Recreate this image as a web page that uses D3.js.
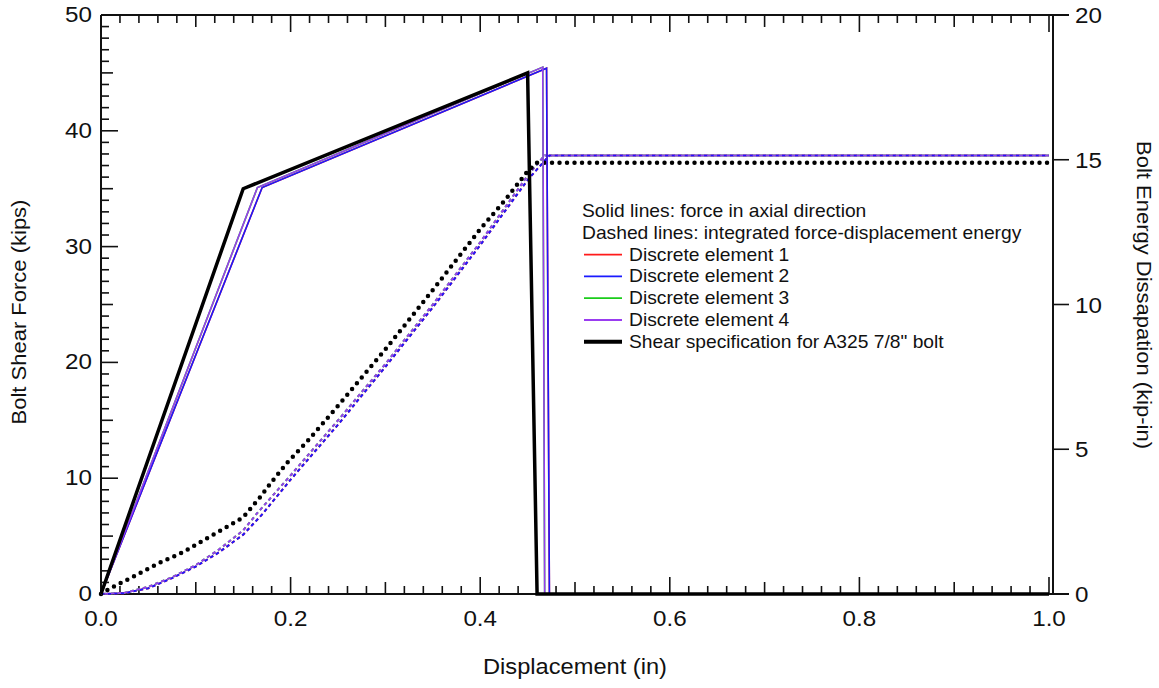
<!DOCTYPE html>
<html>
<head>
<meta charset="utf-8">
<script src="https://cdn.jsdelivr.net/npm/d3@7"></script>
<style>
  body { margin: 0; background: #fff; }
  svg text { font-family: "Liberation Sans", Arial, sans-serif; fill: #111; }
</style>
</head>
<body>
<svg id="chart" width="1159" height="688"></svg>
<script>
// ---------- data ----------
const xTicks = [0.0, 0.2, 0.4, 0.6, 0.8, 1.0];
const leftTicks = [0, 10, 20, 30, 40, 50];
const rightTicks = [0, 5, 10, 15, 20];

// Solid force curves (kips) vs displacement (in)
const elem1Disp  = [0, 0.170, 0.470, 0.473, 1.0];
const elem1Force = [0, 35.1, 45.4, 0, 0];
const elem2Disp  = [0, 0.170, 0.470, 0.473, 1.0];
const elem2Force = [0, 35.1, 45.4, 0, 0];
const elem3Disp  = [0, 0.165, 0.466, 0.468, 1.0];
const elem3Force = [0, 35.1, 45.5, 0, 0];
const elem4Disp  = [0, 0.165, 0.466, 0.468, 1.0];
const elem4Force = [0, 35.1, 45.5, 0, 0];
const specDisp   = [0, 0.150, 0.450, 0.460, 1.0];
const specForce  = [0, 35.0, 45.0, 0, 0];

// Dashed energy curves (kip-in)
const elem2EDisp = [0, 0.025, 0.05, 0.075, 0.1, 0.125, 0.15, 0.17, 0.2, 0.25, 0.3, 0.35, 0.4, 0.45, 0.473, 1.0];
const elem2E     = [0, 0.03, 0.20, 0.55, 0.95, 1.45, 2.05, 2.75, 3.95, 5.85, 7.85, 9.9, 12.05, 14.3, 15.15, 15.15];
const elem4EDisp = [0, 0.025, 0.05, 0.075, 0.1, 0.125, 0.15, 0.165, 0.2, 0.25, 0.3, 0.35, 0.4, 0.45, 0.468, 1.0];
const elem4E     = [0, 0.04, 0.25, 0.58, 1.0, 1.55, 2.2, 2.8, 4.1, 6.0, 7.95, 10.0, 12.15, 14.45, 15.15, 15.15];
const specEDisp  = [0, 0.01, 0.034, 0.06, 0.087, 0.112, 0.136, 0.15, 0.168, 0.18, 0.196, 0.217, 0.25, 0.3, 0.35, 0.4, 0.426, 0.45, 0.46, 1.0];
const specE      = [0, 0.2, 0.6, 1.05, 1.45, 1.93, 2.38, 2.65, 3.35, 3.87, 4.52, 5.25, 6.5, 8.45, 10.5, 12.6, 13.6, 14.6, 14.9, 14.9];

const legendHeader = ["Solid lines: force in axial direction",
                      "Dashed lines: integrated force-displacement energy"];
const legendNames  = ["Discrete element 1", "Discrete element 2", "Discrete element 3",
                      "Discrete element 4", "Shear specification for A325 7/8\" bolt"];

// ---------- layout ----------
const svg = d3.select("#chart");
const X0 = 101, X1 = 1049, Y0 = 594, Y1 = 15, XR = 1053;
const x = d3.scaleLinear().domain([0, 1]).range([X0, X1]);
const yL = d3.scaleLinear().domain([0, 50]).range([Y0, Y1]);
const yR = d3.scaleLinear().domain([0, 20]).range([Y0, Y1]);
const SX = 1.1; // horizontal text stretch seen in the reference

const colors = { e1: "#ff1a1a", e2: "#1a1aff", e3: "#1acc1a", e4: "#9a3cf0", spec: "#000" };

function addText(parent, tx, ty, str, size, anchor, rot) {
  return parent.append("text")
    .attr("transform", `translate(${tx},${ty})` + (rot ? ` rotate(${rot})` : "") + ` scale(${SX},1)`)
    .attr("font-size", size).attr("text-anchor", anchor || "start").text(str);
}

const axisG = svg.append("g").attr("stroke", "#111").attr("fill", "none");

// axis lines
axisG.append("line").attr("x1", X0).attr("x2", X0).attr("y1", Y1).attr("y2", Y0).attr("stroke-width", 2);
axisG.append("line").attr("x1", X0).attr("x2", XR + 16).attr("y1", Y0).attr("y2", Y0).attr("stroke-width", 2);
axisG.append("line").attr("x1", X0).attr("x2", XR + 16).attr("y1", Y1).attr("y2", Y1).attr("stroke-width", 2);
axisG.append("line").attr("x1", XR).attr("x2", XR).attr("y1", Y1).attr("y2", Y0).attr("stroke-width", 2);

// x ticks (bottom inward, top inward)
d3.range(0, 51).forEach(k => {
  const v = x.invert(x(k / 50));
  const len = (k % 10 === 0) ? 17 : (k % 5 === 0 ? 12 : 8);
  axisG.append("line").attr("x1", x(v)).attr("x2", x(v)).attr("y1", Y0).attr("y2", Y0 - len).attr("stroke-width", 1.6);
  axisG.append("line").attr("x1", x(v)).attr("x2", x(v)).attr("y1", Y1).attr("y2", Y1 + len).attr("stroke-width", 1.6);
});
// left y ticks (inward)
d3.range(0, 51).forEach(v => {
  const len = (v % 10 === 0) ? 17 : (v % 5 === 0 ? 12 : 8);
  axisG.append("line").attr("x1", X0).attr("x2", X0 + len).attr("y1", yL(v)).attr("y2", yL(v)).attr("stroke-width", 1.6);
});
// right y ticks (outward)
rightTicks.forEach(v => {
  axisG.append("line").attr("x1", XR).attr("x2", XR + 16).attr("y1", yR(v)).attr("y2", yR(v)).attr("stroke-width", 1.6);
});

// tick labels
const tickFont = 22;
const tl = svg.append("g");
xTicks.forEach(d => addText(tl, x(d), Y0 + 32, d.toFixed(1), tickFont, "middle"));
leftTicks.forEach(d => addText(tl, X0 - 9, yL(d) + 7, String(d), tickFont, "end"));
rightTicks.forEach(d => addText(tl, XR + 22, yR(d) + 8, String(d), tickFont, "start"));

// axis titles
addText(svg, (X0 + X1) / 2, 674, "Displacement (in)", 21.5, "middle");
addText(svg, 26, 312, "Bolt Shear Force (kips)", 20, "middle", -90);
addText(svg, 1137, 295, "Bolt Energy Dissapation (kip-in)", 20, "middle", 90);

// ---------- curves ----------
const plot = svg.append("g");
function series(xs, ys, yScale) { return xs.map((d, i) => [x(d), yScale(ys[i])]); }
const line = d3.line();

// energy (dashed)
[[elem2EDisp, elem2E, colors.e1, 0], [elem4EDisp, elem4E, colors.e3, 3],
 [elem2EDisp, elem2E, colors.e2, 0], [elem4EDisp, elem4E, colors.e4, 3]].forEach(([xs, ys, c, off]) => {
  plot.append("path").attr("d", line(series(xs, ys, yR))).attr("fill", "none")
    .attr("stroke", c).attr("stroke-width", 2).attr("stroke-dasharray", "3.5,3").attr("stroke-dashoffset", off);
});
plot.append("path").attr("d", line(series(specEDisp, specE, yR))).attr("fill", "none")
  .attr("stroke", "#000").attr("stroke-width", 4.5).attr("stroke-linecap", "round").attr("stroke-dasharray", "0,7.5");

// force (solid)
[[elem1Disp, elem1Force, colors.e1], [elem3Disp, elem3Force, colors.e3],
 [elem2Disp, elem2Force, colors.e2], [elem4Disp, elem4Force, colors.e4]].forEach(([xs, ys, c]) => {
  plot.append("path").attr("d", line(series(xs, ys, yL))).attr("fill", "none")
    .attr("stroke", c).attr("stroke-width", 1.6);
});
plot.append("path").attr("d", line(series(specDisp, specForce, yL))).attr("fill", "none")
  .attr("stroke", "#000").attr("stroke-width", 3.5).attr("stroke-linejoin", "miter");

// ---------- legend ----------
const lg = svg.append("g");
const legFont = 17.5, lx = 582, rowH = 21.8, ly0 = 211;
legendHeader.forEach((t, i) => addText(lg, lx, ly0 + i * rowH + 6, t, legFont, "start"));
const legColors = [colors.e1, colors.e2, colors.e3, colors.e4, "#000"];
legendNames.forEach((t, i) => {
  const yy = ly0 + (i + 2) * rowH;
  lg.append("line").attr("x1", lx + 2).attr("x2", lx + 40).attr("y1", yy).attr("y2", yy)
    .attr("stroke", legColors[i]).attr("stroke-width", i === 4 ? 4 : 1.8);
  addText(lg, lx + 47, yy + 6, t, legFont, "start");
});
</script>
</body>
</html>
